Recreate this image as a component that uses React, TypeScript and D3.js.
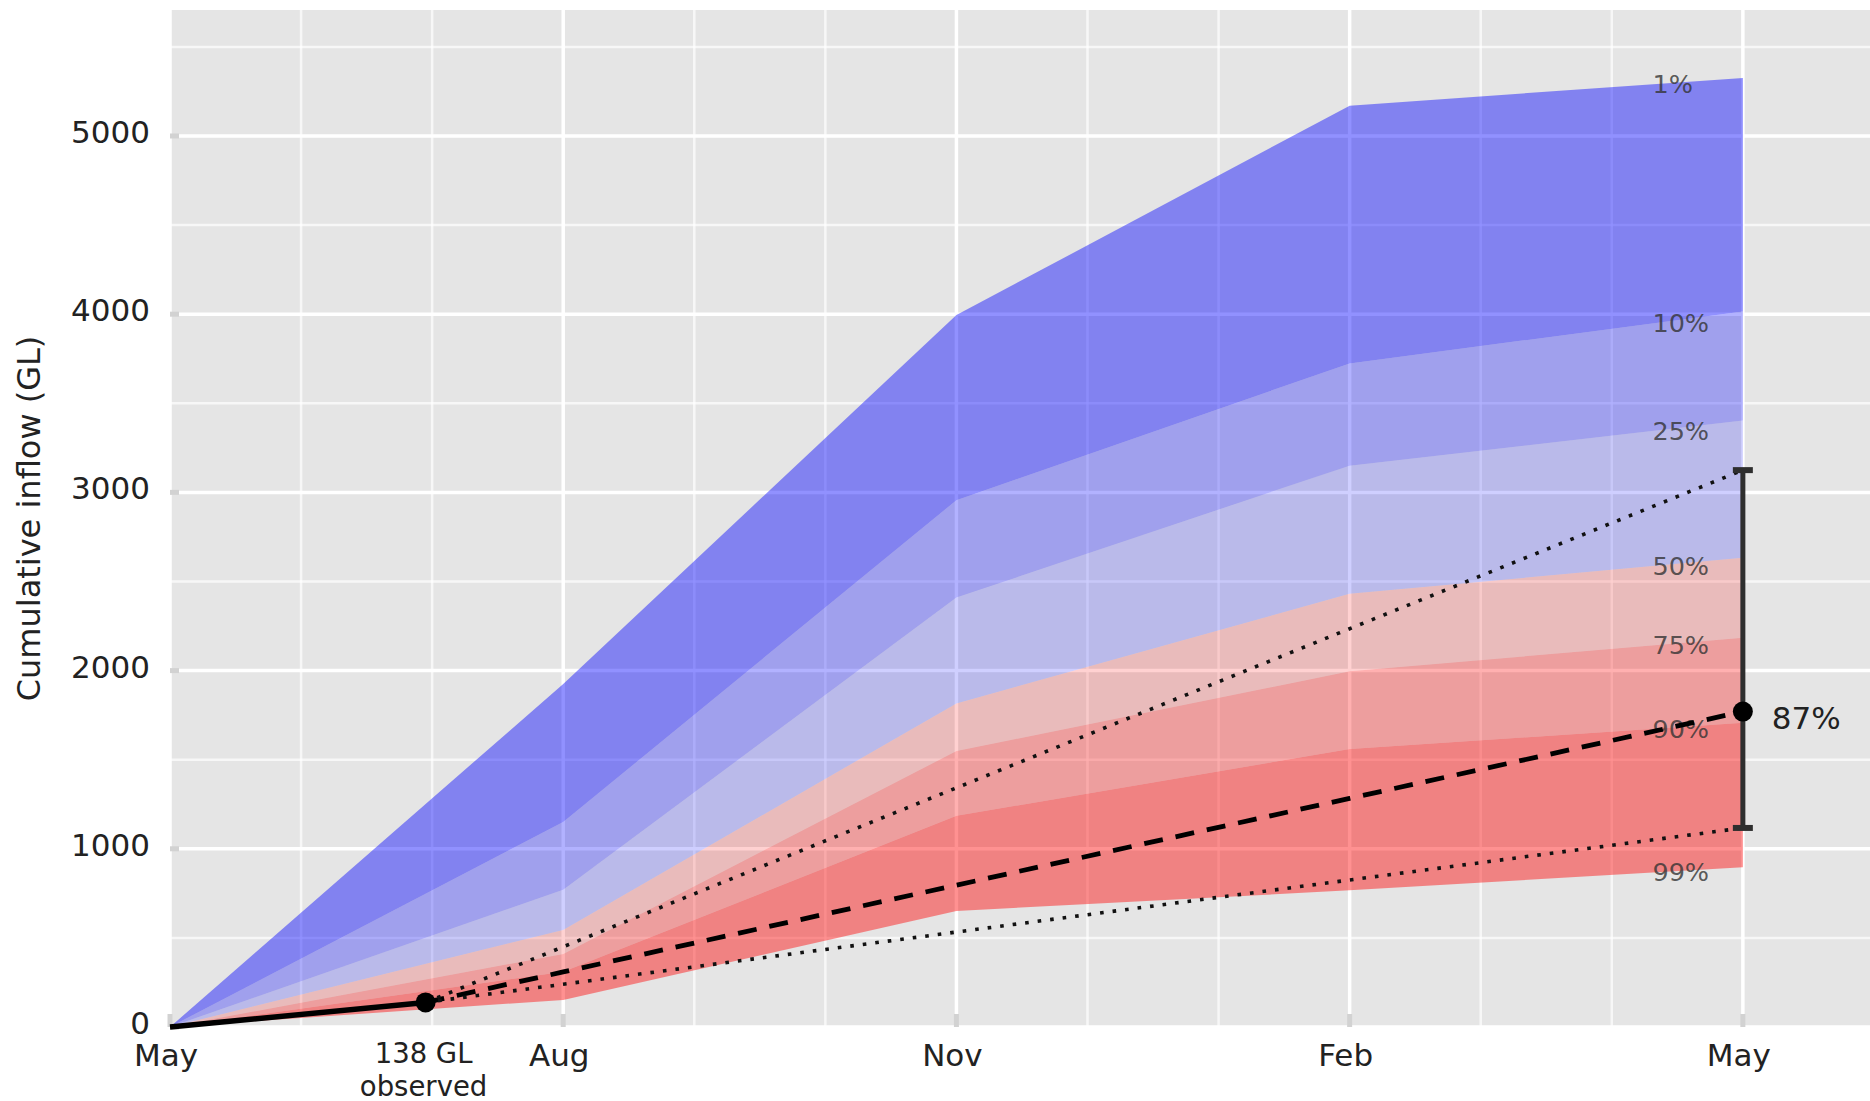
import * as d3 from 'd3';
import { useEffect, useRef } from 'react';

// x positions are months counted from May
const tickMonths = [0, 3, 6, 9, 12];
const tickNames = ['May', 'Aug', 'Nov', 'Feb', 'May'];
const gridMonths = d3.range(0, 13);

const quantileNames = ['1%', '10%', '25%', '50%', '75%', '90%', '99%'];
const q01 = [0, 1925, 3995, 5170, 5326];
const q10 = [0, 1150, 2956, 3724, 4015];
const q25 = [0, 770, 2410, 3150, 3403];
const q50 = [0, 545, 1816, 2431, 2633];
const q75 = [0, 410, 1549, 1996, 2185];
const q90 = [0, 310, 1185, 1560, 1707];
const q99 = [0, 152, 651, 767, 897];

const observedMonth = 1.95;
const observedValue = 138;
const observedLabel = ['138 GL', 'observed'];

const projMonths = [1.95, 3, 6, 9, 12];
const projMedian = [138, 309, 796, 1283, 1770];
const projHigh = [138, 450, 1342, 2235, 3125];
const projLow = [138, 240, 533, 825, 1117];
const projLabel = '87%';

const yMajor = [0, 1000, 2000, 3000, 4000, 5000];
const yMinor = [500, 1500, 2500, 3500, 4500, 5500];

const bandFill = ['#0000ff', '#0000ff', '#0000ff', '#ff0000', '#ff0000', '#ff0000'];
const bandAlpha = [0.43, 0.3, 0.19, 0.18, 0.31, 0.43];

const font = 'DejaVu Sans, sans-serif';

export default function App() {
  const ref = useRef<SVGSVGElement>(null);

  useEffect(() => {
    drawChart();
  }, []);

  const drawChart = () => {
    const svg = d3.select(ref.current);
    svg.selectAll('*').remove();

    const left = 170;
    const right = 1870;
    const top = 10;
    const bottom = 1027;

    const x = d3.scaleLinear().domain([0, 12.97]).range([left, right]);
    const y = d3.scaleLinear().domain([0, 5707]).range([bottom, top]);

    svg
      .append('rect')
      .attr('x', left)
      .attr('y', top)
      .attr('width', right - left)
      .attr('height', bottom - top)
      .style('fill', '#e5e5e5');

    // grid
    const grid = svg.append('g');
    grid
      .selectAll('.hminor')
      .data(yMinor)
      .enter()
      .append('line')
      .attr('x1', left)
      .attr('x2', right)
      .attr('y1', (d) => y(d))
      .attr('y2', (d) => y(d))
      .style('stroke', '#fff')
      .style('stroke-opacity', 0.7)
      .style('stroke-width', 2.5);
    grid
      .selectAll('.vminor')
      .data(gridMonths.filter((m) => !tickMonths.includes(m)))
      .enter()
      .append('line')
      .attr('x1', (d) => x(d))
      .attr('x2', (d) => x(d))
      .attr('y1', top)
      .attr('y2', bottom)
      .style('stroke', '#fff')
      .style('stroke-opacity', 0.7)
      .style('stroke-width', 2.5);
    grid
      .selectAll('.hmajor')
      .data(yMajor)
      .enter()
      .append('line')
      .attr('x1', left)
      .attr('x2', right)
      .attr('y1', (d) => y(d))
      .attr('y2', (d) => y(d))
      .style('stroke', '#fff')
      .style('stroke-width', 3.5);
    grid
      .selectAll('.vmajor')
      .data(tickMonths)
      .enter()
      .append('line')
      .attr('x1', (d) => x(d))
      .attr('x2', (d) => x(d))
      .attr('y1', top)
      .attr('y2', bottom)
      .style('stroke', '#fff')
      .style('stroke-width', 3.5);

    // quantile bands
    const quantiles = [q01, q10, q25, q50, q75, q90, q99];
    const bands = d3.range(quantiles.length - 1).map((i) =>
      tickMonths.map((m, j) => ({ m, hi: quantiles[i][j], lo: quantiles[i + 1][j] }))
    );
    const area = d3
      .area<{ m: number; hi: number; lo: number }>()
      .x((d) => x(d.m))
      .y0((d) => y(d.lo))
      .y1((d) => y(d.hi));

    svg
      .selectAll('.band')
      .data(bands)
      .enter()
      .append('path')
      .attr('d', (d) => area(d))
      .style('fill', (d, i) => bandFill[i])
      .style('fill-opacity', (d, i) => bandAlpha[i]);

    // small ticks
    svg
      .selectAll('.ytick')
      .data(yMajor)
      .enter()
      .append('line')
      .attr('x1', left)
      .attr('x2', left + 9)
      .attr('y1', (d) => y(d))
      .attr('y2', (d) => y(d))
      .style('stroke', '#d2d2d2')
      .style('stroke-width', 5);
    svg
      .selectAll('.xtick')
      .data(tickMonths)
      .enter()
      .append('line')
      .attr('x1', (d) => x(d))
      .attr('x2', (d) => x(d))
      .attr('y1', bottom)
      .attr('y2', bottom - 13)
      .style('stroke', '#d2d2d2')
      .style('stroke-width', 5);

    // quantile labels
    const labelMonth = 11.31;
    svg
      .selectAll('.qlabel')
      .data(quantiles)
      .enter()
      .append('text')
      .attr('x', x(labelMonth))
      .attr('y', (d) => y(d3.scaleLinear().domain(tickMonths).range(d)(labelMonth)))
      .attr('dy', '0.35em')
      .style('font-family', font)
      .style('font-size', '25.5px')
      .style('fill', '#333')
      .style('fill-opacity', 0.8)
      .text((d, i) => quantileNames[i]);

    // observed line
    const line = d3
      .line<number>()
      .x((d, i) => x(projMonths[i]))
      .y((d) => y(d));

    svg
      .append('path')
      .attr(
        'd',
        d3.line()([
          [x(0), y(0)],
          [x(observedMonth), y(observedValue)],
        ])
      )
      .style('fill', 'none')
      .style('stroke', '#000')
      .style('stroke-width', 5.5);

    svg
      .append('path')
      .attr('d', line(projMedian))
      .style('fill', 'none')
      .style('stroke', '#000')
      .style('stroke-width', 4.8)
      .style('stroke-dasharray', '19,13');

    [projHigh, projLow].forEach((vals) => {
      svg
        .append('path')
        .attr('d', line(vals))
        .style('fill', 'none')
        .style('stroke', '#111')
        .style('stroke-width', 3.6)
        .style('stroke-dasharray', '3.6,9');
    });

    svg
      .append('circle')
      .attr('cx', x(observedMonth))
      .attr('cy', y(observedValue))
      .attr('r', 10)
      .style('fill', '#000');

    // error bar at the end
    const end = projMonths[projMonths.length - 1];
    const hiEnd = projHigh[projHigh.length - 1];
    const loEnd = projLow[projLow.length - 1];
    const medEnd = projMedian[projMedian.length - 1];
    svg
      .append('line')
      .attr('x1', x(end))
      .attr('x2', x(end))
      .attr('y1', y(loEnd))
      .attr('y2', y(hiEnd))
      .style('stroke', '#2e2e2e')
      .style('stroke-width', 5);
    [hiEnd, loEnd].forEach((v) => {
      svg
        .append('line')
        .attr('x1', x(end) - 10)
        .attr('x2', x(end) + 10)
        .attr('y1', y(v))
        .attr('y2', y(v))
        .style('stroke', '#2e2e2e')
        .style('stroke-width', 6);
    });
    svg
      .append('circle')
      .attr('cx', x(end))
      .attr('cy', y(medEnd))
      .attr('r', 10)
      .style('fill', '#000');
    svg
      .append('text')
      .attr('x', x(end) + 29)
      .attr('y', y(medEnd) + 7)
      .attr('dy', '0.35em')
      .style('font-family', font)
      .style('font-size', '31px')
      .style('fill', '#222')
      .text(projLabel);

    // axis labels
    svg
      .selectAll('.ylab')
      .data(yMajor)
      .enter()
      .append('text')
      .attr('x', 150)
      .attr('y', (d) => y(d) + 7)
      .style('text-anchor', 'end')
      .style('font-family', font)
      .style('font-size', '31px')
      .style('fill', '#222')
      .text((d) => d);

    svg
      .selectAll('.xlab')
      .data(tickMonths)
      .enter()
      .append('text')
      .attr('x', (d) => x(d) - 4)
      .attr('y', 1066)
      .style('text-anchor', 'middle')
      .style('font-family', font)
      .style('font-size', '31px')
      .style('fill', '#222')
      .text((d, i) => tickNames[i]);

    svg
      .selectAll('.obslab')
      .data(observedLabel)
      .enter()
      .append('text')
      .attr('x', x(observedMonth) - 2)
      .attr('y', (d, i) => 1063 + i * 33)
      .style('text-anchor', 'middle')
      .style('font-family', font)
      .style('font-size', '27.5px')
      .style('fill', '#222')
      .text((d) => d);

    svg
      .append('text')
      .attr('transform', `translate(29, ${(top + bottom) / 2}) rotate(-90)`)
      .attr('dy', '0.35em')
      .style('text-anchor', 'middle')
      .style('font-family', font)
      .style('font-size', '32px')
      .style('fill', '#222')
      .text('Cumulative inflow (GL)');
  };

  return (
    <div style={{ position: 'absolute', left: 0, top: 0 }}>
      <svg ref={ref} width={1870} height={1101} style={{ display: 'block', background: '#fff' }} />
    </div>
  );
}
